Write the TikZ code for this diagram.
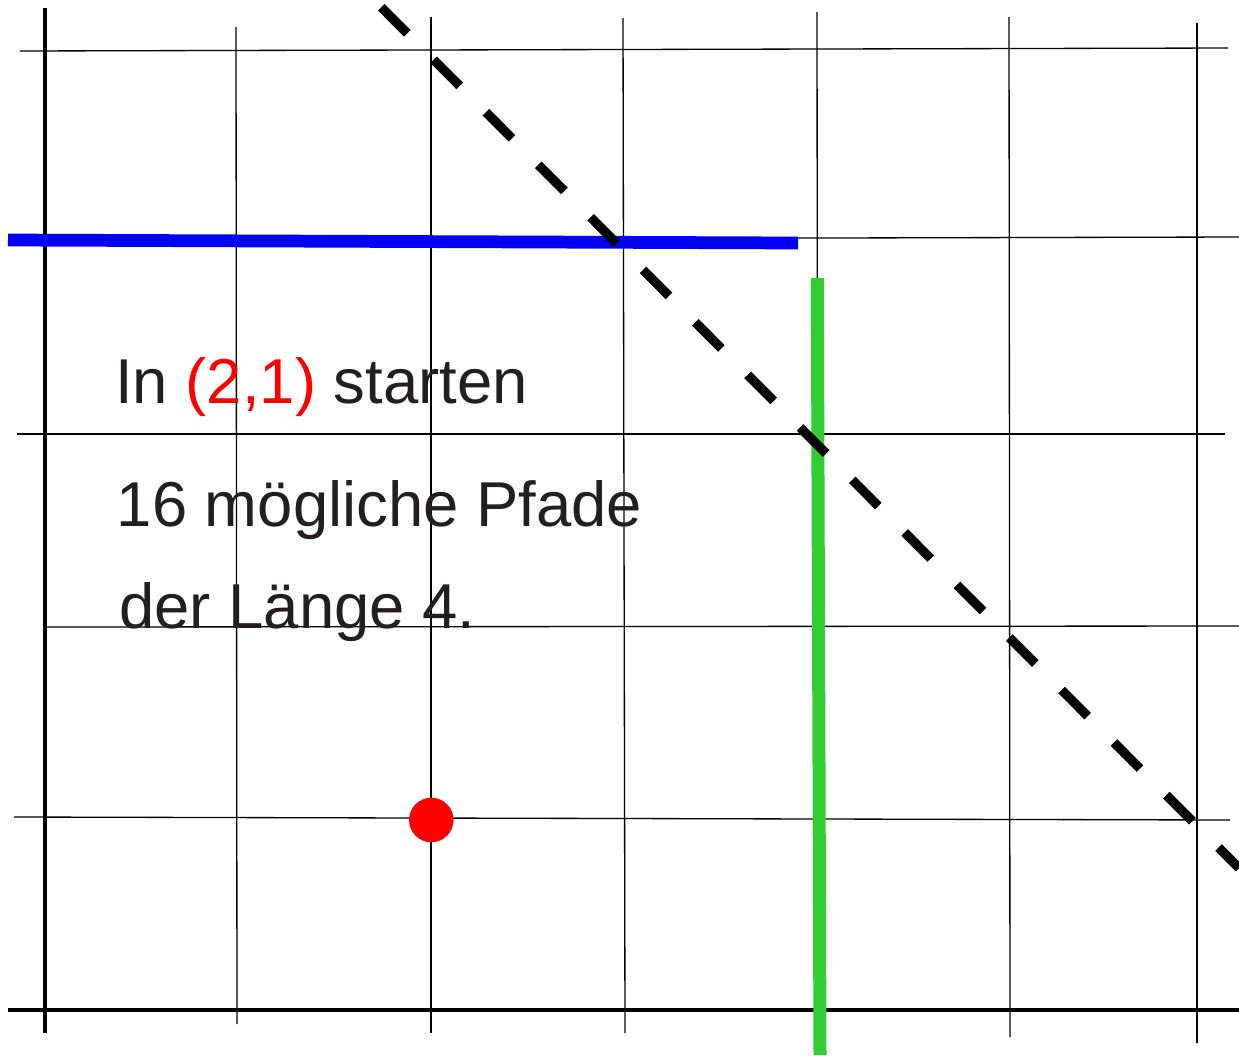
\documentclass[tikz,border=0pt]{standalone}
\usepackage{fontspec}
\setmainfont{Liberation Sans}
\definecolor{pblue}{HTML}{0000FF}
\definecolor{pgreen}{HTML}{32CD32}
\definecolor{pred}{HTML}{FF0000}
\definecolor{ptext}{HTML}{231F20}
\usepackage{tikz}

\begin{document}
\begin{tikzpicture}[
  x=0.02cm, y=-0.02cm,
  gridline/.style={line width=0.75pt, black},
  axisline/.style={line width=1.9pt, black},
  blueline/.style={line width=7.25pt, pblue},
  greenline/.style={line width=7.4pt, pgreen},
  dashline/.style={line width=5.3pt, black, dash pattern=on 21pt off 21.2pt},
  label/.style={font=\fontsize{36.1}{40}\selectfont, text=ptext, inner sep=0pt, anchor=base west},
]
  \useasboundingbox (0,0) rectangle (1239,1055);

  % Grid - vertical
  \draw[gridline] (236,27) -- (237,1024);
  \draw[gridline] (431,17) -- (431,1033);
  \draw[gridline] (623,18) -- (625,1033);
  \draw[gridline] (817,12) -- (818,1035);
  \draw[gridline] (1009,17) -- (1010,1037);
  \draw[gridline] (1197,23) -- (1197,1043);

  % Grid - horizontal
  \draw[gridline] (20,51) -- (1228,48);
  \draw[gridline] (10,240) -- (1239,237);
  \draw[gridline] (17,434) -- (1225,434);
  \draw[gridline] (45,627) -- (1239,626);
  \draw[gridline] (14,817) -- (1230,820);

  % Axes
  \draw[axisline] (45,8) -- (45,1033);
  \draw[axisline] (8,1010) -- (1239,1010);

  % Boundaries
  \draw[blueline] (8,240) -- (798,243);
  \draw[greenline] (817.3,278) -- (820,1055);
  \draw[dashline] (381.3,7.2) -- (1239,868);

  % Start point
  \node[circle, fill=pred, inner sep=0pt, minimum size=0.89cm] (pt) at (431.3,820) {};

  % Labels
  \node[label] (start) at (115,403) {In \textcolor{pred}{(2,1)} starten};
  \node[label] (paths) at (116.5,526) {16 mögliche Pfade};
  \node[label] (len) at (119,628) {der Länge 4.};
\end{tikzpicture}
\end{document}
